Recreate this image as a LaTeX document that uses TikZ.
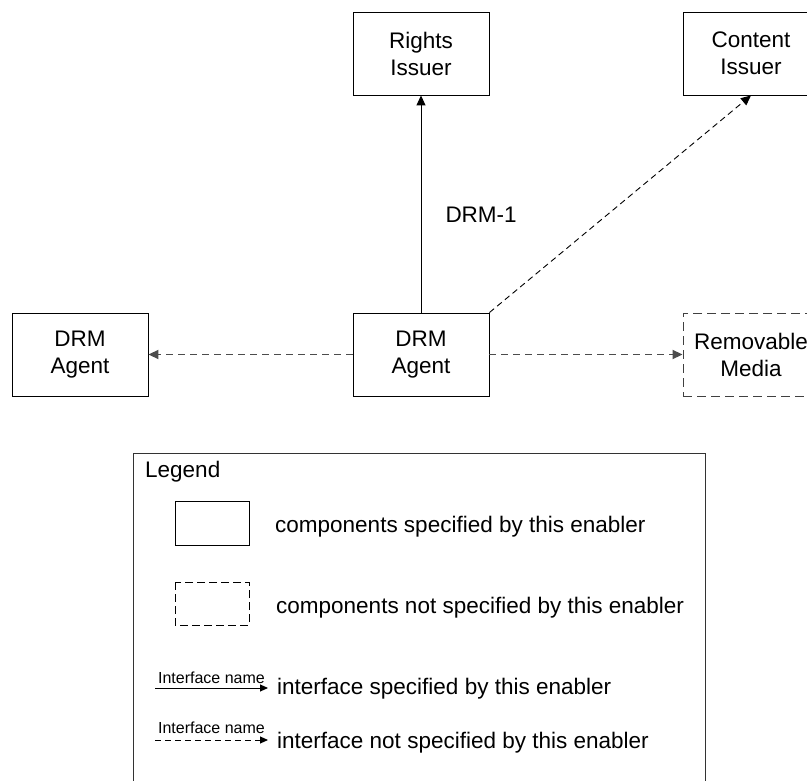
\documentclass[tikz,border=0pt]{standalone}
\usepackage{fontspec}
\setmainfont{Liberation Sans}
\usepackage{tikz}
\usetikzlibrary{arrows.meta}

\begin{document}
\begin{tikzpicture}[x=1pt, y=-1pt, font=\fontsize{22.5}{27}\selectfont,
  comp/.style={draw, line width=0.9pt, minimum width=136pt, minimum height=83pt, inner sep=0pt, align=center},
  ext/.style={comp, black!75, text=black, dash pattern=on 9pt off 5pt},
  tip/.style={-{Triangle[length=10pt,width=9pt]}},
  spec/.style={tip, line width=1pt},
  nspec/.style={tip, line width=0.9pt, dash pattern=on 6pt off 4pt},
  link/.style={tip, line width=1.8pt, black!70, dash pattern=on 7pt off 5pt},
  small/.style={font=\fontsize{16}{18}\selectfont, inner sep=0pt}]
\useasboundingbox (0,0) rectangle (807,781);
% components
\node[comp] (ri) at (421,53.5) {Rights\\Issuer};
\node[comp] (ci) at (751,53.5) {Content\\Issuer};
\node[comp] (agent) at (421,354.5) {DRM\\Agent};
\node[comp] (agentl) at (80,354.5) {DRM\\Agent};
\node[ext] (media) at (751,354.5) {Removable\\Media};
% interfaces
\draw[spec] (agent.north) -- node[pos=0.45, anchor=west, inner sep=0pt, xshift=24pt] (drm1) {DRM-1} (ri.south);
\draw[nspec] (agent.north east) -- (ci.south);
\draw[link] (agent.west) -- (agentl.east);
\draw[link] (agent.east) -- (media.west);
% legend
\draw[line width=0.9pt, black!80] (133,790) -- (133,453) -- (705,453) -- (705,790);
\node[anchor=base west, inner sep=0pt] (legend) at (145,477) {Legend};
\draw[line width=0.9pt] (175,501) rectangle (249,545);
\draw[line width=0.9pt, dash pattern=on 8pt off 4pt] (175,582) rectangle (249,625);
\node[anchor=base west, inner sep=0pt] (t1) at (275,532) {components specified by this enabler};
\node[anchor=base west, inner sep=0pt] (t2) at (276,613) {components not specified by this enabler};
\coordinate (a1) at (155,688);
\coordinate (b1) at (268,688);
\coordinate (a2) at (155,740);
\coordinate (b2) at (268,740);
\draw[line width=1pt, -{Triangle[length=8pt,width=7pt]}] (a1) -- node[small, above=4pt] (n1) {Interface name} (b1);
\draw[line width=1pt, dash pattern=on 6pt off 4pt, -{Triangle[length=8pt,width=7pt]}] (a2) -- node[small, above=6pt] (n2) {Interface name} (b2);
\node[anchor=base west, inner sep=0pt] (t3) at (277,694) {interface specified by this enabler};
\node[anchor=base west, inner sep=0pt] (t4) at (277,748) {interface not specified by this enabler};
\end{tikzpicture}
\end{document}
